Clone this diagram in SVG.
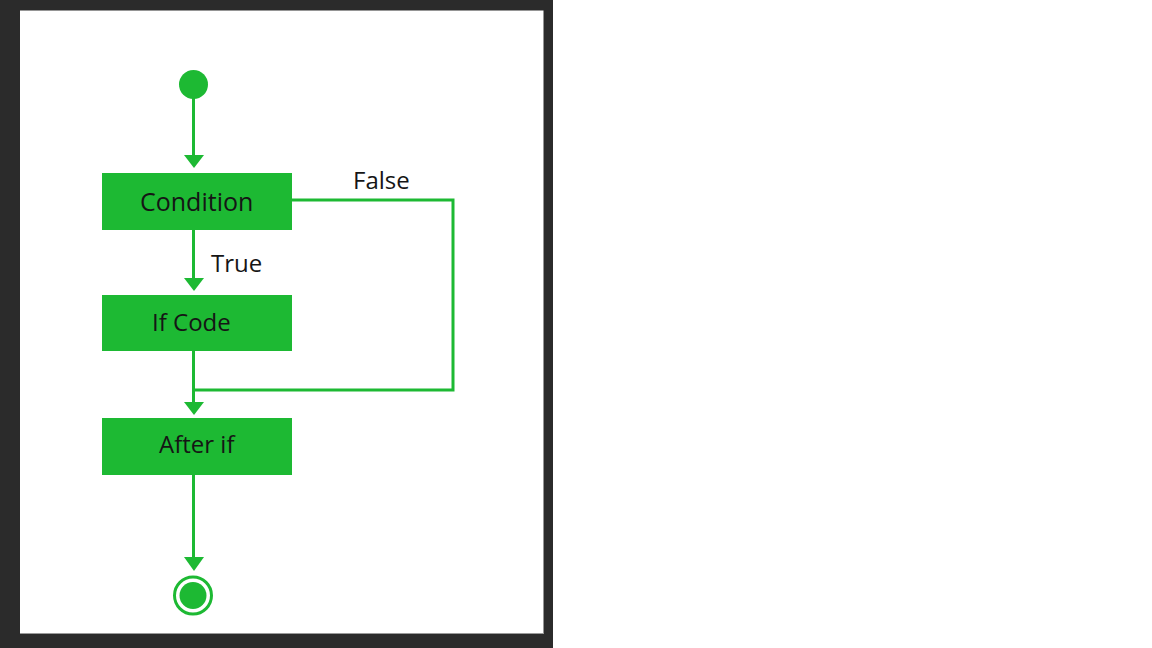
<svg xmlns="http://www.w3.org/2000/svg" width="1152" height="648" viewBox="0 0 1152 648">
<style>
.box{fill:#1db933}
.ln{stroke:#1db933;stroke-width:3;fill:none}
.ah{fill:#1db933}
.lbl{font-family:"Open Sans","Noto Sans",sans-serif;font-size:24px;fill:#151515}
</style>
<rect x="0" y="0" width="1152" height="648" fill="#ffffff"/>
<rect x="0" y="0" width="553" height="648" fill="#2b2b2b"/>
<rect x="20" y="10.5" width="523.5" height="623.5" fill="#ffffff"/>
<line x1="20" y1="633.5" x2="543.5" y2="633.5" stroke="#9a9a9a" stroke-width="1"/>
<g id="connectors">
<path class="ln" d="M193.5,98 V155"/>
<path class="ah" d="M184,155 H204 L194,168 Z"/>
<path class="ln" d="M193.5,230 V278"/>
<path class="ah" d="M184,278 H204 L194,291 Z"/>
<path class="ln" d="M193.5,351 V402"/>
<path class="ah" d="M184,402 H204 L194,415 Z"/>
<path class="ln" d="M292,200 H453 V390 H193.5"/>
<path class="ln" d="M193.5,475 V557"/>
<path class="ah" d="M184,557 H204 L194,571 Z"/>
<text class="lbl" x="211" y="272">True</text>
<text class="lbl" x="353" y="189">False</text>
</g>
<g id="start">
<circle cx="193.5" cy="84.5" r="14.5" fill="#1db933"/>
</g>
<g id="condition">
<rect class="box" x="102" y="173" width="190" height="57"/>
<text class="lbl" x="140" y="211" style="font-size:25px">Condition</text>
</g>
<g id="ifcode">
<rect class="box" x="102" y="295" width="190" height="56"/>
<text class="lbl" x="152" y="331">If Code</text>
</g>
<g id="afterif">
<rect class="box" x="102" y="418" width="190" height="57"/>
<text class="lbl" x="159" y="453">After if</text>
</g>
<g id="end">
<circle cx="193" cy="595.5" r="18.5" fill="none" stroke="#1db933" stroke-width="3"/>
<circle cx="193" cy="595.5" r="13.5" fill="#1db933"/>
</g>
</svg>
